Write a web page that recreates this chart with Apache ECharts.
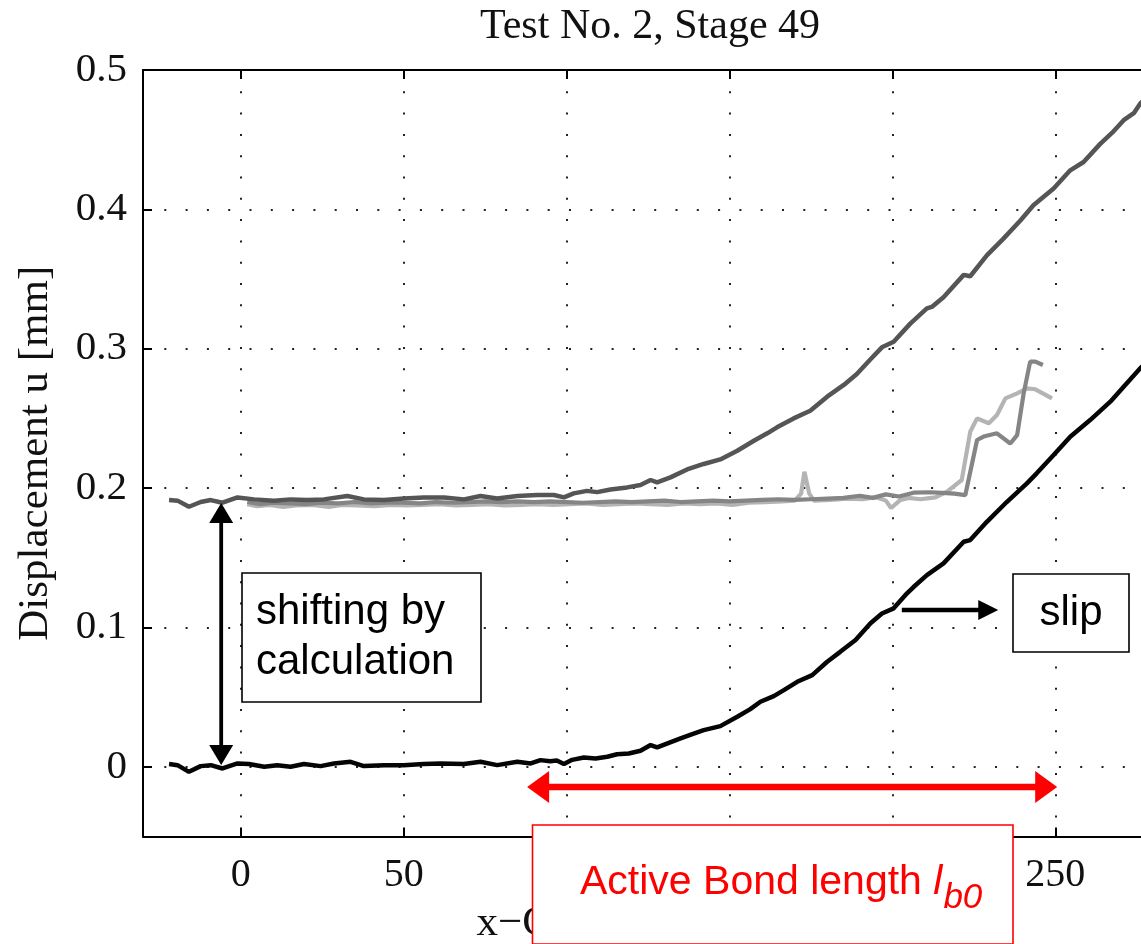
<!DOCTYPE html>
<html><head><meta charset="utf-8">
<script src="https://cdn.jsdelivr.net/npm/echarts@6/dist/echarts.min.js"></script>
<style>html,body{margin:0;padding:0;background:#fff}#c{width:1141px;height:944px}</style>
</head><body><div id="c"></div>
<script>
// ---------- data ----------
const titleText = 'Test No. 2, Stage 49';
const xName = 'x\u2212Coordinate [mm]';
const yName = 'Displacement u [mm]';
const xTicks = [0, 50, 100, 150, 200, 250];
const yTicks = [0, 0.1, 0.2, 0.3, 0.4, 0.5];

// measured (bottom, black) curve
const blackCurve = [[-22,0.002],[-19.4,0.0012],[-15.9,-0.0036],[-12.3,0.0005],[-9.2,0.0012],[-5.6,-0.0012],[-1,0.0024],[2.5,0.002],[7.2,0],[11.2,0.0012],[15.3,0],[19.4,0.002],[24.5,0.0005],[28.6,0.0024],[33.7,0.0036],[37.8,0.0005],[44,0.0012],[50,0.0012],[56.2,0.002],[61.3,0.0024],[68.5,0.002],[73.6,0.0036],[78.7,0.0012],[84.9,0.0036],[89,0.0024],[92,0.0048],[95,0.004],[97,0.0045],[99.2,0.002],[101.7,0.005],[105.3,0.0067],[108.9,0.006],[112.5,0.0072],[115.5,0.009],[119.1,0.0096],[122.7,0.0115],[125.8,0.0156],[127.8,0.0139],[131.4,0.0172],[135,0.0204],[138.6,0.0235],[142.1,0.0263],[147.2,0.0292],[152.4,0.0359],[156.4,0.0414],[159.5,0.0467],[163.6,0.0507],[166.7,0.055],[170.8,0.061],[175.4,0.0658],[180,0.0754],[184,0.0825],[188.7,0.091],[193.3,0.103],[196.8,0.110],[200.4,0.1137],[204.5,0.1245],[206.5,0.129],[210.6,0.1376],[215.7,0.146],[221.9,0.1615],[223.9,0.1627],[229,0.1758],[235.1,0.190],[241.3,0.2034],[244.3,0.2106],[249.5,0.2237],[254.6,0.2369],[260.7,0.2488],[266.9,0.262],[271,0.2727],[276.1,0.286],[280,0.294]];

// shifted (upper, dark grey) curve
const upperCurve = [[-22,0.1914],[-19.4,0.191],[-15.9,0.1866],[-12.3,0.190],[-9.2,0.1914],[-5.6,0.1895],[-1,0.1933],[4.1,0.1919],[10.2,0.191],[15.3,0.1919],[20.4,0.1914],[25.5,0.1919],[32.7,0.1943],[37.8,0.1919],[44,0.1914],[50,0.1926],[56.2,0.1933],[62.4,0.1933],[68.5,0.1919],[73.6,0.1943],[78.7,0.1926],[84.9,0.1943],[91,0.195],[96.1,0.195],[99.2,0.1933],[102.2,0.1962],[106.3,0.198],[109.4,0.1971],[113.5,0.199],[118.6,0.2005],[122.7,0.2022],[125.8,0.2058],[127.8,0.2041],[131.9,0.2077],[137,0.2134],[142.1,0.2173],[147.2,0.2206],[152.4,0.2268],[157.5,0.234],[161.6,0.2393],[164.6,0.2436],[169.7,0.25],[174.8,0.2555],[180,0.2656],[185.1,0.274],[189.1,0.2818],[193.3,0.2924],[196.8,0.301],[200.4,0.305],[205.5,0.318],[210.6,0.329],[212.1,0.33],[215.7,0.337],[221.9,0.353],[223.9,0.352],[229,0.367],[234.1,0.379],[239.3,0.392],[243.3,0.403],[249.5,0.415],[254.6,0.428],[258.7,0.434],[263.8,0.447],[267.9,0.456],[271,0.464],[274.1,0.469],[276.1,0.476],[280,0.484]];

// medium grey curve
const greyCurve = [[2,0.190],[6,0.1885],[10,0.1895],[15,0.189],[20,0.1885],[25,0.1895],[30,0.189],[35,0.190],[40,0.189],[45,0.1895],[50,0.1895],[55,0.189],[60,0.190],[65,0.1895],[70,0.190],[75,0.1905],[80,0.190],[85,0.1905],[90,0.190],[95,0.1905],[100,0.190],[105,0.1895],[110,0.190],[115,0.1905],[120,0.190],[125,0.1905],[130,0.191],[135,0.190],[140,0.1905],[145,0.191],[150,0.1905],[155,0.191],[160,0.1915],[165,0.192],[170,0.1915],[175,0.192],[180,0.1925],[185,0.193],[190,0.1945],[194,0.193],[198,0.1955],[202,0.194],[206.5,0.1967],[211.7,0.197],[215.3,0.1965],[219,0.196],[222.4,0.195],[226,0.2345],[228,0.237],[232.1,0.2393],[236.2,0.232],[238.3,0.238],[240.3,0.268],[242.3,0.2907],[243.9,0.2907],[246.2,0.2883]];

// light grey curve
const lightCurve = [[2,0.1885],[5,0.187],[9,0.188],[13,0.1865],[17,0.1875],[22,0.188],[27,0.1865],[31,0.188],[36,0.1875],[41,0.187],[46,0.188],[51,0.1875],[56,0.188],[61,0.1885],[66,0.1875],[71,0.188],[76,0.1885],[81,0.1875],[86,0.188],[91,0.1885],[96,0.188],[101,0.1885],[106,0.189],[111,0.188],[116,0.1885],[121,0.189],[126,0.1885],[131,0.188],[136,0.189],[141,0.1885],[146,0.189],[151,0.188],[156,0.1895],[161,0.190],[166,0.1905],[170,0.191],[172,0.196],[173,0.2117],[174.5,0.196],[176,0.191],[181,0.1915],[186,0.1925],[191,0.192],[195,0.1935],[198,0.191],[199.6,0.1857],[202.5,0.1915],[205,0.193],[208.6,0.192],[213.2,0.1933],[216.8,0.1975],[221.3,0.2058],[223.9,0.2404],[226,0.25],[229.6,0.2465],[232.1,0.2524],[234.7,0.2644],[238.3,0.268],[241.3,0.2716],[243.9,0.2709],[249,0.2644]];

// annotation anchors (data coordinates)
const shiftArrow = [[-6, 0.1893], [-6, 0.0013]];
const slipArrow = [[202.9, 0.1125], [232.5, 0.1125]];
const bondArrow = [[87.9, -0.0145], [250.6, -0.0145]];
const shiftLabel = ['shifting by', 'calculation'];
const slipLabel = 'slip';
const bondLabel = 'Active Bond length ';

// ---------- chart ----------
const SERIF = '"Liberation Serif", "Times New Roman", serif';
const chart = echarts.init(document.getElementById('c'), null, {renderer: 'canvas'});

const dotted = {type: [2, 19.3], color: '#222', width: 2};
const baseX = {
  type: 'value', min: -30, max: 280,
  axisLine: {show: true, onZero: false, lineStyle: {color: '#000', width: 2}},
  axisTick: {show: true, inside: true, length: 9, customValues: xTicks, lineStyle: {color: '#000', width: 2}},
  splitLine: {show: false}
};

chart.setOption({
  animation: false,
  backgroundColor: '#fff',
  title: {
    text: titleText, left: 480, top: 6, padding: 0,
    textStyle: {fontFamily: SERIF, fontSize: 42, fontWeight: 'normal', color: '#111'}
  },
  grid: {left: 143, top: 70, right: -12, bottom: 107.5, containLabel: false, outerBoundsMode: 'none'},
  xAxis: [
    Object.assign({}, baseX, {
      position: 'bottom',
      name: xName, nameLocation: 'middle', nameGap: 66,
      nameTextStyle: {fontFamily: SERIF, fontSize: 43, color: '#111'},
      axisLabel: {customValues: xTicks, fontFamily: SERIF, fontSize: 40, color: '#111', margin: 19},
      splitLine: {show: true, lineStyle: dotted}
    }),
    Object.assign({}, baseX, {position: 'top', axisLabel: {show: false}})
  ],
  yAxis: {
    type: 'value', min: -0.05, max: 0.5,
    axisLine: {show: true, onZero: false, lineStyle: {color: '#000', width: 2}},
    axisTick: {show: true, inside: true, length: 9, customValues: yTicks, lineStyle: {color: '#000', width: 2}},
    axisLabel: {customValues: yTicks, fontFamily: SERIF, fontSize: 41, color: '#111', margin: 16},
    splitLine: {show: true, lineStyle: dotted},
    name: yName, nameLocation: 'middle', nameGap: 86,
    nameTextStyle: {fontFamily: SERIF, fontSize: 43, color: '#111'}
  },
  series: [
    {type: 'line', name: 'light', data: lightCurve, showSymbol: false, lineStyle: {color: '#b4b4b4', width: 4.2}, z: 2},
    {type: 'line', name: 'grey', data: greyCurve, showSymbol: false, lineStyle: {color: '#858585', width: 4.2}, z: 3},
    {type: 'line', name: 'upper', data: upperCurve, showSymbol: false, lineStyle: {color: '#555555', width: 4.5}, z: 4},
    {type: 'line', name: 'bottom', data: blackCurve, showSymbol: false, lineStyle: {color: '#050505', width: 4.5}, z: 5}
  ]
});

// ---------- annotations ----------
function px(p) { return chart.convertToPixel({xAxisIndex: 0, yAxisIndex: 0}, p); }
function arrow(a, b, color, w, hl, hh, both) {
  const p1 = px(a), p2 = px(b);
  const dx = p2[0] - p1[0], dy = p2[1] - p1[1], L = Math.hypot(dx, dy);
  const ux = dx / L, uy = dy / L, nx = -uy, ny = ux;
  const s = both ? [p1[0] + ux * hl * 0.7, p1[1] + uy * hl * 0.7] : p1;
  const e = [p2[0] - ux * hl * 0.7, p2[1] - uy * hl * 0.7];
  const out = [{type: 'line', z: 100, shape: {x1: s[0], y1: s[1], x2: e[0], y2: e[1]}, style: {stroke: color, lineWidth: w}}];
  const head = (tip, d) => ({type: 'polygon', z: 100, shape: {points: [
    [tip[0], tip[1]],
    [tip[0] - d[0] * hl + nx * hh, tip[1] - d[1] * hl + ny * hh],
    [tip[0] - d[0] * hl - nx * hh, tip[1] - d[1] * hl - ny * hh]]}, style: {fill: color}});
  out.push(head(p2, [ux, uy]));
  if (both) out.push(head(p1, [-ux, -uy]));
  return out;
}
function text(str, x, y, font, color, align) {
  return {type: 'text', z: 101, x: x, y: y, style: {text: str, font: font, fill: color, textAlign: align || 'left', textVerticalAlign: 'middle'}};
}
function box(x, y, w, h, color) {
  return {type: 'rect', z: 99, shape: {x: x, y: y, width: w, height: h}, style: {fill: '#fff', stroke: color, lineWidth: 1.6}};
}

const mctx = document.createElement('canvas').getContext('2d');
function measure(str, font) { mctx.font = font; return mctx.measureText(str).width; }
const fMain = '42px "Liberation Sans"';
const fRed = '41px "Liberation Sans"';
const fItal = 'italic 41px "Liberation Sans"';
const fSub = 'italic 35px "Liberation Sans"';
const bondX = 580;
const subX = bondX + measure(bondLabel, fRed) + measure('l', fItal) + 1;

const g = [];
g.push(...arrow(shiftArrow[0], shiftArrow[1], '#000', 3.8, 20, 12, true));
g.push(box(242, 573, 239, 129, '#000'));
g.push(text(shiftLabel[0], 256, 627 - 15, fMain, '#000'));
g.push(text(shiftLabel[1], 256, 677 - 15, fMain, '#000'));
g.push(...arrow(slipArrow[0], slipArrow[1], '#000', 4.5, 20, 10, false));
g.push(box(1013, 574, 116, 78, '#000'));
g.push(text(slipLabel, 1071, 628 - 15, fMain, '#000', 'center'));
g.push(...arrow(bondArrow[0], bondArrow[1], '#ff0000', 6.5, 22, 16, true));
g.push(box(532.5, 825, 480.5, 119, '#ff0000'));
g.push(text(bondLabel, bondX, 897 - 14, fRed, '#ff0000'));
g.push(text('l', bondX + measure(bondLabel, fRed), 897 - 14, fItal, '#ff0000'));
g.push(text('b0', subX, 910 - 12, fSub, '#ff0000'));
chart.setOption({graphic: g});
</script>
</body></html>
